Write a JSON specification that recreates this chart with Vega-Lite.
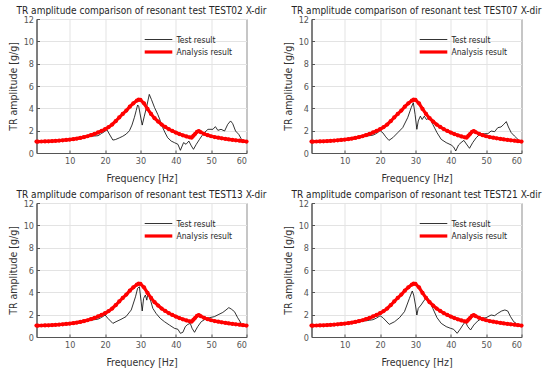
{
  "$schema": "https://vega.github.io/schema/vega-lite/v6.json",
  "background": "white",
  "padding": {"left": 7.5, "top": 5, "right": 5, "bottom": 2},
  "bounds": "flush",
  "columns": 2,
  "spacing": {"row": 50, "column": 65},
  "config": {
    "font": "Liberation Sans Narrow, Arial Narrow, DejaVu Sans Condensed, Liberation Sans",
    "view": {"stroke": "#555555", "strokeWidth": 1},
    "title": {"fontSize": 10, "fontWeight": "normal", "color": "#262626", "offset": -1, "font": "Liberation Sans Narrow, Arial Narrow, DejaVu Sans Condensed, Liberation Sans"},
    "axis": {"grid": true, "gridColor": "#e3e3e3", "domainColor": "#555555", "tickColor": "#555555", "labelColor": "#555555", "titleColor": "#333333", "labelFontSize": 9, "titleFontSize": 10.5, "titleFontWeight": "normal", "tickSize": -3, "labelPadding": 6},
    "axisX": {"titlePadding": 8},
    "axisY": {"titlePadding": 5},
    "legend": {"labelFontSize": 8.5, "labelColor": "#262626", "symbolSize": 144, "symbolType": "M-2.3,0H2.3", "rowPadding": 0, "labelOffset": 10, "padding": 2}
  },
  "resolve": {"legend": {"color": "independent", "strokeWidth": "independent"}},
  "datasets": {
    "ana": [
      {"s":"Analysis result","f":0.6,"v":1.02},{"s":"Analysis result","f":1,"v":1.02},{"s":"Analysis result","f":2,"v":1.03},{"s":"Analysis result","f":3,"v":1.04},{"s":"Analysis result","f":4,"v":1.05},{"s":"Analysis result","f":5,"v":1.07},{"s":"Analysis result","f":6,"v":1.09},{"s":"Analysis result","f":7,"v":1.11},{"s":"Analysis result","f":8,"v":1.14},{"s":"Analysis result","f":9,"v":1.17},{"s":"Analysis result","f":10,"v":1.2},{"s":"Analysis result","f":11,"v":1.24},{"s":"Analysis result","f":12,"v":1.29},{"s":"Analysis result","f":13,"v":1.35},{"s":"Analysis result","f":14,"v":1.42},{"s":"Analysis result","f":15,"v":1.5},{"s":"Analysis result","f":16,"v":1.6},{"s":"Analysis result","f":17,"v":1.71},{"s":"Analysis result","f":18,"v":1.84},{"s":"Analysis result","f":19,"v":1.98},{"s":"Analysis result","f":20,"v":2.13},{"s":"Analysis result","f":21,"v":2.32},{"s":"Analysis result","f":22,"v":2.55},{"s":"Analysis result","f":23,"v":2.85},{"s":"Analysis result","f":24,"v":3.18},{"s":"Analysis result","f":25,"v":3.5},{"s":"Analysis result","f":26,"v":3.8},{"s":"Analysis result","f":27,"v":4.15},{"s":"Analysis result","f":28,"v":4.45},{"s":"Analysis result","f":29,"v":4.7},{"s":"Analysis result","f":29.5,"v":4.78},{"s":"Analysis result","f":30,"v":4.75},{"s":"Analysis result","f":31,"v":4.45},{"s":"Analysis result","f":32,"v":3.95},{"s":"Analysis result","f":33,"v":3.5},{"s":"Analysis result","f":34,"v":3.12},{"s":"Analysis result","f":35,"v":2.82},{"s":"Analysis result","f":36,"v":2.55},{"s":"Analysis result","f":37,"v":2.33},{"s":"Analysis result","f":38,"v":2.14},{"s":"Analysis result","f":39,"v":1.98},{"s":"Analysis result","f":40,"v":1.83},{"s":"Analysis result","f":41,"v":1.7},{"s":"Analysis result","f":42,"v":1.58},{"s":"Analysis result","f":43,"v":1.48},{"s":"Analysis result","f":44,"v":1.4},{"s":"Analysis result","f":44.5,"v":1.38},{"s":"Analysis result","f":45,"v":1.55},{"s":"Analysis result","f":45.5,"v":1.72},{"s":"Analysis result","f":46,"v":1.9},{"s":"Analysis result","f":46.5,"v":1.97},{"s":"Analysis result","f":47,"v":1.87},{"s":"Analysis result","f":48,"v":1.72},{"s":"Analysis result","f":49,"v":1.6},{"s":"Analysis result","f":50,"v":1.5},{"s":"Analysis result","f":51,"v":1.43},{"s":"Analysis result","f":52,"v":1.37},{"s":"Analysis result","f":53,"v":1.32},{"s":"Analysis result","f":54,"v":1.27},{"s":"Analysis result","f":55,"v":1.22},{"s":"Analysis result","f":56,"v":1.18},{"s":"Analysis result","f":57,"v":1.14},{"s":"Analysis result","f":58,"v":1.1},{"s":"Analysis result","f":59,"v":1.06},{"s":"Analysis result","f":60,"v":1.02}
    ],
    "test": [
      {"p":"TEST02","s":"Test result","f":0.6,"v":1.0},{"p":"TEST02","s":"Test result","f":2,"v":1.02},{"p":"TEST02","s":"Test result","f":4,"v":1.04},{"p":"TEST02","s":"Test result","f":6,"v":1.08},{"p":"TEST02","s":"Test result","f":8,"v":1.12},{"p":"TEST02","s":"Test result","f":10,"v":1.18},{"p":"TEST02","s":"Test result","f":12,"v":1.27},{"p":"TEST02","s":"Test result","f":14,"v":1.38},{"p":"TEST02","s":"Test result","f":15,"v":1.45},{"p":"TEST02","s":"Test result","f":16,"v":1.5},{"p":"TEST02","s":"Test result","f":17,"v":1.52},{"p":"TEST02","s":"Test result","f":18,"v":1.55},
      {"p":"TEST02","s":"Test result","f":19,"v":1.75},{"p":"TEST02","s":"Test result","f":20,"v":1.95},{"p":"TEST02","s":"Test result","f":20.5,"v":2.1},{"p":"TEST02","s":"Test result","f":21.2,"v":1.7},{"p":"TEST02","s":"Test result","f":22.2,"v":1.16},{"p":"TEST02","s":"Test result","f":22.9,"v":1.2},{"p":"TEST02","s":"Test result","f":24,"v":1.35},{"p":"TEST02","s":"Test result","f":25,"v":1.5},{"p":"TEST02","s":"Test result","f":26,"v":1.7},{"p":"TEST02","s":"Test result","f":26.9,"v":2.0},{"p":"TEST02","s":"Test result","f":27.6,"v":2.5},{"p":"TEST02","s":"Test result","f":28.3,"v":3.2},{"p":"TEST02","s":"Test result","f":28.8,"v":3.8},{"p":"TEST02","s":"Test result","f":29.2,"v":4.3},{"p":"TEST02","s":"Test result","f":29.5,"v":4.2},{"p":"TEST02","s":"Test result","f":29.9,"v":3.5},{"p":"TEST02","s":"Test result","f":30.5,"v":2.5},{"p":"TEST02","s":"Test result","f":31.1,"v":3.3},{"p":"TEST02","s":"Test result","f":31.8,"v":4.2},{"p":"TEST02","s":"Test result","f":32.5,"v":5.25},{"p":"TEST02","s":"Test result","f":33.1,"v":4.8},{"p":"TEST02","s":"Test result","f":34,"v":4.06},{"p":"TEST02","s":"Test result","f":34.9,"v":3.46},{"p":"TEST02","s":"Test result","f":35.6,"v":2.9},{"p":"TEST02","s":"Test result","f":36.3,"v":2.27},{"p":"TEST02","s":"Test result","f":37,"v":1.8},{"p":"TEST02","s":"Test result","f":37.7,"v":1.37},{"p":"TEST02","s":"Test result","f":38.7,"v":1.07},{"p":"TEST02","s":"Test result","f":39.6,"v":0.93},{"p":"TEST02","s":"Test result","f":40.6,"v":0.78},{"p":"TEST02","s":"Test result","f":41.3,"v":0.24},{"p":"TEST02","s":"Test result","f":42.2,"v":0.93},{"p":"TEST02","s":"Test result","f":42.9,"v":0.78},{"p":"TEST02","s":"Test result","f":43.7,"v":1.07},{"p":"TEST02","s":"Test result","f":44.4,"v":0.63},{"p":"TEST02","s":"Test result","f":45,"v":0.33},{"p":"TEST02","s":"Test result","f":45.8,"v":0.78},{"p":"TEST02","s":"Test result","f":46.7,"v":1.22},{"p":"TEST02","s":"Test result","f":47.4,"v":1.55},{"p":"TEST02","s":"Test result","f":48.1,"v":1.82},{"p":"TEST02","s":"Test result","f":49.1,"v":2.12},{"p":"TEST02","s":"Test result","f":50.5,"v":2.12},{"p":"TEST02","s":"Test result","f":51.2,"v":2.36},{"p":"TEST02","s":"Test result","f":51.9,"v":2.03},{"p":"TEST02","s":"Test result","f":52.8,"v":2.12},{"p":"TEST02","s":"Test result","f":53.8,"v":1.97},{"p":"TEST02","s":"Test result","f":54.7,"v":2.57},{"p":"TEST02","s":"Test result","f":55.5,"v":2.87},{"p":"TEST02","s":"Test result","f":56.1,"v":2.63},{"p":"TEST02","s":"Test result","f":56.9,"v":1.97},{"p":"TEST02","s":"Test result","f":57.8,"v":1.67},{"p":"TEST02","s":"Test result","f":58.5,"v":1.28},{"p":"TEST02","s":"Test result","f":59,"v":1.05},

      {"p":"TEST07","s":"Test result","f":0.6,"v":1.0},{"p":"TEST07","s":"Test result","f":2,"v":1.02},{"p":"TEST07","s":"Test result","f":4,"v":1.04},{"p":"TEST07","s":"Test result","f":6,"v":1.08},{"p":"TEST07","s":"Test result","f":8,"v":1.12},{"p":"TEST07","s":"Test result","f":10,"v":1.18},{"p":"TEST07","s":"Test result","f":12,"v":1.27},{"p":"TEST07","s":"Test result","f":14,"v":1.38},{"p":"TEST07","s":"Test result","f":15,"v":1.45},{"p":"TEST07","s":"Test result","f":16,"v":1.5},{"p":"TEST07","s":"Test result","f":17,"v":1.55},{"p":"TEST07","s":"Test result","f":18,"v":1.6},
      {"p":"TEST07","s":"Test result","f":19,"v":1.75},{"p":"TEST07","s":"Test result","f":20,"v":2.0},{"p":"TEST07","s":"Test result","f":20.8,"v":1.8},{"p":"TEST07","s":"Test result","f":21.6,"v":1.45},{"p":"TEST07","s":"Test result","f":22.5,"v":1.13},{"p":"TEST07","s":"Test result","f":23.6,"v":1.37},{"p":"TEST07","s":"Test result","f":25,"v":1.82},{"p":"TEST07","s":"Test result","f":26.4,"v":2.27},{"p":"TEST07","s":"Test result","f":27.8,"v":3.16},{"p":"TEST07","s":"Test result","f":28.8,"v":4.06},{"p":"TEST07","s":"Test result","f":29.4,"v":4.5},{"p":"TEST07","s":"Test result","f":29.9,"v":3.46},{"p":"TEST07","s":"Test result","f":30.4,"v":2.12},{"p":"TEST07","s":"Test result","f":30.8,"v":2.87},{"p":"TEST07","s":"Test result","f":31.4,"v":3.3},{"p":"TEST07","s":"Test result","f":31.9,"v":3.0},{"p":"TEST07","s":"Test result","f":32.5,"v":3.3},{"p":"TEST07","s":"Test result","f":33.1,"v":3.0},{"p":"TEST07","s":"Test result","f":34,"v":3.16},{"p":"TEST07","s":"Test result","f":34.9,"v":2.57},{"p":"TEST07","s":"Test result","f":36.1,"v":1.82},{"p":"TEST07","s":"Test result","f":37.3,"v":1.22},{"p":"TEST07","s":"Test result","f":38.7,"v":0.93},{"p":"TEST07","s":"Test result","f":40.1,"v":0.72},{"p":"TEST07","s":"Test result","f":40.8,"v":0.54},{"p":"TEST07","s":"Test result","f":41.4,"v":0.18},{"p":"TEST07","s":"Test result","f":42.2,"v":0.72},{"p":"TEST07","s":"Test result","f":42.9,"v":0.93},{"p":"TEST07","s":"Test result","f":43.7,"v":1.13},{"p":"TEST07","s":"Test result","f":44.6,"v":0.72},{"p":"TEST07","s":"Test result","f":45.3,"v":0.42},{"p":"TEST07","s":"Test result","f":46.2,"v":0.93},{"p":"TEST07","s":"Test result","f":47.2,"v":1.37},{"p":"TEST07","s":"Test result","f":48.4,"v":1.73},{"p":"TEST07","s":"Test result","f":49.5,"v":1.73},{"p":"TEST07","s":"Test result","f":50.5,"v":1.73},{"p":"TEST07","s":"Test result","f":51.4,"v":1.97},{"p":"TEST07","s":"Test result","f":52.4,"v":1.91},{"p":"TEST07","s":"Test result","f":53.3,"v":2.27},{"p":"TEST07","s":"Test result","f":54.2,"v":2.33},{"p":"TEST07","s":"Test result","f":55,"v":2.57},{"p":"TEST07","s":"Test result","f":55.7,"v":2.81},{"p":"TEST07","s":"Test result","f":56.3,"v":2.33},{"p":"TEST07","s":"Test result","f":57.1,"v":1.82},{"p":"TEST07","s":"Test result","f":58,"v":1.52},{"p":"TEST07","s":"Test result","f":59,"v":1.22},

      {"p":"TEST13","s":"Test result","f":0.6,"v":1.0},{"p":"TEST13","s":"Test result","f":2,"v":1.02},{"p":"TEST13","s":"Test result","f":4,"v":1.04},{"p":"TEST13","s":"Test result","f":6,"v":1.08},{"p":"TEST13","s":"Test result","f":8,"v":1.12},{"p":"TEST13","s":"Test result","f":10,"v":1.18},{"p":"TEST13","s":"Test result","f":12,"v":1.27},{"p":"TEST13","s":"Test result","f":14,"v":1.38},{"p":"TEST13","s":"Test result","f":15,"v":1.45},{"p":"TEST13","s":"Test result","f":16,"v":1.5},{"p":"TEST13","s":"Test result","f":17,"v":1.55},{"p":"TEST13","s":"Test result","f":18,"v":1.6},
      {"p":"TEST13","s":"Test result","f":19,"v":1.75},{"p":"TEST13","s":"Test result","f":20,"v":1.97},{"p":"TEST13","s":"Test result","f":20.8,"v":1.67},{"p":"TEST13","s":"Test result","f":22.2,"v":1.22},{"p":"TEST13","s":"Test result","f":23.1,"v":1.37},{"p":"TEST13","s":"Test result","f":24.5,"v":1.58},{"p":"TEST13","s":"Test result","f":25.9,"v":1.82},{"p":"TEST13","s":"Test result","f":27.4,"v":2.42},{"p":"TEST13","s":"Test result","f":28.6,"v":3.6},{"p":"TEST13","s":"Test result","f":29.2,"v":4.36},{"p":"TEST13","s":"Test result","f":29.7,"v":4.5},{"p":"TEST13","s":"Test result","f":30.2,"v":3.16},{"p":"TEST13","s":"Test result","f":30.5,"v":2.33},{"p":"TEST13","s":"Test result","f":30.9,"v":3.46},{"p":"TEST13","s":"Test result","f":31.4,"v":3.76},{"p":"TEST13","s":"Test result","f":31.8,"v":3.3},{"p":"TEST13","s":"Test result","f":32.2,"v":4.06},{"p":"TEST13","s":"Test result","f":32.7,"v":3.46},{"p":"TEST13","s":"Test result","f":33.5,"v":2.57},{"p":"TEST13","s":"Test result","f":34.4,"v":2.12},{"p":"TEST13","s":"Test result","f":35.6,"v":1.67},{"p":"TEST13","s":"Test result","f":36.8,"v":1.37},{"p":"TEST13","s":"Test result","f":38.2,"v":1.07},{"p":"TEST13","s":"Test result","f":39.6,"v":0.78},{"p":"TEST13","s":"Test result","f":40.6,"v":0.69},{"p":"TEST13","s":"Test result","f":41.3,"v":0.33},{"p":"TEST13","s":"Test result","f":42,"v":0.42},{"p":"TEST13","s":"Test result","f":42.7,"v":0.93},{"p":"TEST13","s":"Test result","f":43.4,"v":1.13},{"p":"TEST13","s":"Test result","f":44.1,"v":1.22},{"p":"TEST13","s":"Test result","f":44.6,"v":0.78},{"p":"TEST13","s":"Test result","f":45.3,"v":0.42},{"p":"TEST13","s":"Test result","f":46.2,"v":0.93},{"p":"TEST13","s":"Test result","f":47.2,"v":1.37},{"p":"TEST13","s":"Test result","f":48.4,"v":1.61},{"p":"TEST13","s":"Test result","f":49.5,"v":1.73},{"p":"TEST13","s":"Test result","f":50.9,"v":1.82},{"p":"TEST13","s":"Test result","f":52.2,"v":2.03},{"p":"TEST13","s":"Test result","f":53.3,"v":2.2},{"p":"TEST13","s":"Test result","f":54.2,"v":2.42},{"p":"TEST13","s":"Test result","f":55,"v":2.63},{"p":"TEST13","s":"Test result","f":55.7,"v":2.5},{"p":"TEST13","s":"Test result","f":56.6,"v":2.27},{"p":"TEST13","s":"Test result","f":57.5,"v":1.73},{"p":"TEST13","s":"Test result","f":58.5,"v":1.22},

      {"p":"TEST21","s":"Test result","f":0.6,"v":1.0},{"p":"TEST21","s":"Test result","f":2,"v":1.02},{"p":"TEST21","s":"Test result","f":4,"v":1.04},{"p":"TEST21","s":"Test result","f":6,"v":1.08},{"p":"TEST21","s":"Test result","f":8,"v":1.12},{"p":"TEST21","s":"Test result","f":10,"v":1.18},{"p":"TEST21","s":"Test result","f":12,"v":1.27},{"p":"TEST21","s":"Test result","f":14,"v":1.38},{"p":"TEST21","s":"Test result","f":15,"v":1.42},{"p":"TEST21","s":"Test result","f":16,"v":1.45},{"p":"TEST21","s":"Test result","f":17,"v":1.5},{"p":"TEST21","s":"Test result","f":18,"v":1.55},
      {"p":"TEST21","s":"Test result","f":19,"v":1.7},{"p":"TEST21","s":"Test result","f":20,"v":1.9},{"p":"TEST21","s":"Test result","f":20.8,"v":1.73},{"p":"TEST21","s":"Test result","f":22.6,"v":1.13},{"p":"TEST21","s":"Test result","f":24.1,"v":1.37},{"p":"TEST21","s":"Test result","f":25.5,"v":1.73},{"p":"TEST21","s":"Test result","f":26.9,"v":2.27},{"p":"TEST21","s":"Test result","f":28.3,"v":3.46},{"p":"TEST21","s":"Test result","f":29.1,"v":4.12},{"p":"TEST21","s":"Test result","f":29.5,"v":3.76},{"p":"TEST21","s":"Test result","f":30,"v":2.87},{"p":"TEST21","s":"Test result","f":30.4,"v":1.97},{"p":"TEST21","s":"Test result","f":30.8,"v":2.57},{"p":"TEST21","s":"Test result","f":31.6,"v":2.87},{"p":"TEST21","s":"Test result","f":32.5,"v":3.3},{"p":"TEST21","s":"Test result","f":33.3,"v":3.52},{"p":"TEST21","s":"Test result","f":34,"v":3.3},{"p":"TEST21","s":"Test result","f":34.9,"v":2.57},{"p":"TEST21","s":"Test result","f":36.1,"v":1.73},{"p":"TEST21","s":"Test result","f":37.3,"v":1.22},{"p":"TEST21","s":"Test result","f":38.7,"v":0.93},{"p":"TEST21","s":"Test result","f":39.9,"v":0.78},{"p":"TEST21","s":"Test result","f":40.8,"v":0.69},{"p":"TEST21","s":"Test result","f":41.8,"v":0.33},{"p":"TEST21","s":"Test result","f":42.7,"v":0.72},{"p":"TEST21","s":"Test result","f":43.4,"v":1.07},{"p":"TEST21","s":"Test result","f":44.1,"v":1.37},{"p":"TEST21","s":"Test result","f":44.8,"v":0.93},{"p":"TEST21","s":"Test result","f":45.6,"v":0.63},{"p":"TEST21","s":"Test result","f":46.5,"v":1.07},{"p":"TEST21","s":"Test result","f":47.6,"v":1.43},{"p":"TEST21","s":"Test result","f":48.8,"v":1.67},{"p":"TEST21","s":"Test result","f":50,"v":1.73},{"p":"TEST21","s":"Test result","f":51.4,"v":1.97},{"p":"TEST21","s":"Test result","f":52.4,"v":1.91},{"p":"TEST21","s":"Test result","f":53.3,"v":2.12},{"p":"TEST21","s":"Test result","f":54.4,"v":2.33},{"p":"TEST21","s":"Test result","f":55.3,"v":2.42},{"p":"TEST21","s":"Test result","f":56.1,"v":2.33},{"p":"TEST21","s":"Test result","f":56.9,"v":1.82},{"p":"TEST21","s":"Test result","f":57.8,"v":1.37},{"p":"TEST21","s":"Test result","f":58.5,"v":1.22}
    ]
  },
  "concat": [
    {"title": "TR amplitude comparison of resonant test TEST02 X-dir", "width": 210, "height": 134,
     "encoding": {
       "x": {"field": "f", "type": "quantitative", "scale": {"domain": [0.6, 60], "nice": false, "zero": false}, "axis": {"values": [10, 20, 30, 40, 50, 60], "title": "Frequency [Hz]"}},
       "y": {"field": "v", "type": "quantitative", "scale": {"domain": [0, 12], "nice": false}, "axis": {"values": [0, 2, 4, 6, 8, 10, 12], "title": "TR amplitude [g/g]"}}
     },
     "layer": [
       {"data": {"name": "test"}, "transform": [{"filter": "datum.p == 'TEST02'"}], "mark": {"type": "line"},
        "encoding": {"color": {"field": "s", "type": "nominal", "scale": {"domain": ["Test result", "Analysis result"], "range": ["#000000", "#ff0000"]}, "legend": {"orient": "top-right", "offset": 12, "title": null}},
                     "strokeWidth": {"field": "s", "type": "nominal", "scale": {"domain": ["Test result", "Analysis result"], "range": [0.8, 3.2]}, "legend": {"orient": "top-right", "offset": 12, "title": null}}}},
       {"data": {"name": "ana"}, "mark": {"type": "line"},
        "encoding": {"color": {"field": "s", "type": "nominal", "scale": {"domain": ["Test result", "Analysis result"], "range": ["#000000", "#ff0000"]}, "legend": {"orient": "top-right", "offset": 12, "title": null}},
                     "strokeWidth": {"field": "s", "type": "nominal", "scale": {"domain": ["Test result", "Analysis result"], "range": [0.8, 3.2]}, "legend": {"orient": "top-right", "offset": 12, "title": null}}}},
       {"data": {"name": "ana"}, "mark": {"type": "point", "filled": true, "size": 18, "opacity": 1, "color": "#ff0000", "strokeWidth": 0}}
     ]},
    {"title": "TR amplitude comparison of resonant test TEST07 X-dir", "width": 210, "height": 134,
     "encoding": {
       "x": {"field": "f", "type": "quantitative", "scale": {"domain": [0.6, 60], "nice": false, "zero": false}, "axis": {"values": [10, 20, 30, 40, 50, 60], "title": "Frequency [Hz]"}},
       "y": {"field": "v", "type": "quantitative", "scale": {"domain": [0, 12], "nice": false}, "axis": {"values": [0, 2, 4, 6, 8, 10, 12], "title": "TR amplitude [g/g]"}}
     },
     "layer": [
       {"data": {"name": "test"}, "transform": [{"filter": "datum.p == 'TEST07'"}], "mark": {"type": "line"},
        "encoding": {"color": {"field": "s", "type": "nominal", "scale": {"domain": ["Test result", "Analysis result"], "range": ["#000000", "#ff0000"]}, "legend": {"orient": "top-right", "offset": 12, "title": null}},
                     "strokeWidth": {"field": "s", "type": "nominal", "scale": {"domain": ["Test result", "Analysis result"], "range": [0.8, 3.2]}, "legend": {"orient": "top-right", "offset": 12, "title": null}}}},
       {"data": {"name": "ana"}, "mark": {"type": "line"},
        "encoding": {"color": {"field": "s", "type": "nominal", "scale": {"domain": ["Test result", "Analysis result"], "range": ["#000000", "#ff0000"]}, "legend": {"orient": "top-right", "offset": 12, "title": null}},
                     "strokeWidth": {"field": "s", "type": "nominal", "scale": {"domain": ["Test result", "Analysis result"], "range": [0.8, 3.2]}, "legend": {"orient": "top-right", "offset": 12, "title": null}}}},
       {"data": {"name": "ana"}, "mark": {"type": "point", "filled": true, "size": 18, "opacity": 1, "color": "#ff0000", "strokeWidth": 0}}
     ]},
    {"title": "TR amplitude comparison of resonant test TEST13 X-dir", "width": 210, "height": 134,
     "encoding": {
       "x": {"field": "f", "type": "quantitative", "scale": {"domain": [0.6, 60], "nice": false, "zero": false}, "axis": {"values": [10, 20, 30, 40, 50, 60], "title": "Frequency [Hz]"}},
       "y": {"field": "v", "type": "quantitative", "scale": {"domain": [0, 12], "nice": false}, "axis": {"values": [0, 2, 4, 6, 8, 10, 12], "title": "TR amplitude [g/g]"}}
     },
     "layer": [
       {"data": {"name": "test"}, "transform": [{"filter": "datum.p == 'TEST13'"}], "mark": {"type": "line"},
        "encoding": {"color": {"field": "s", "type": "nominal", "scale": {"domain": ["Test result", "Analysis result"], "range": ["#000000", "#ff0000"]}, "legend": {"orient": "top-right", "offset": 12, "title": null}},
                     "strokeWidth": {"field": "s", "type": "nominal", "scale": {"domain": ["Test result", "Analysis result"], "range": [0.8, 3.2]}, "legend": {"orient": "top-right", "offset": 12, "title": null}}}},
       {"data": {"name": "ana"}, "mark": {"type": "line"},
        "encoding": {"color": {"field": "s", "type": "nominal", "scale": {"domain": ["Test result", "Analysis result"], "range": ["#000000", "#ff0000"]}, "legend": {"orient": "top-right", "offset": 12, "title": null}},
                     "strokeWidth": {"field": "s", "type": "nominal", "scale": {"domain": ["Test result", "Analysis result"], "range": [0.8, 3.2]}, "legend": {"orient": "top-right", "offset": 12, "title": null}}}},
       {"data": {"name": "ana"}, "mark": {"type": "point", "filled": true, "size": 18, "opacity": 1, "color": "#ff0000", "strokeWidth": 0}}
     ]},
    {"title": "TR amplitude comparison of resonant test TEST21 X-dir", "width": 210, "height": 134,
     "encoding": {
       "x": {"field": "f", "type": "quantitative", "scale": {"domain": [0.6, 60], "nice": false, "zero": false}, "axis": {"values": [10, 20, 30, 40, 50, 60], "title": "Frequency [Hz]"}},
       "y": {"field": "v", "type": "quantitative", "scale": {"domain": [0, 12], "nice": false}, "axis": {"values": [0, 2, 4, 6, 8, 10, 12], "title": "TR amplitude [g/g]"}}
     },
     "layer": [
       {"data": {"name": "test"}, "transform": [{"filter": "datum.p == 'TEST21'"}], "mark": {"type": "line"},
        "encoding": {"color": {"field": "s", "type": "nominal", "scale": {"domain": ["Test result", "Analysis result"], "range": ["#000000", "#ff0000"]}, "legend": {"orient": "top-right", "offset": 12, "title": null}},
                     "strokeWidth": {"field": "s", "type": "nominal", "scale": {"domain": ["Test result", "Analysis result"], "range": [0.8, 3.2]}, "legend": {"orient": "top-right", "offset": 12, "title": null}}}},
       {"data": {"name": "ana"}, "mark": {"type": "line"},
        "encoding": {"color": {"field": "s", "type": "nominal", "scale": {"domain": ["Test result", "Analysis result"], "range": ["#000000", "#ff0000"]}, "legend": {"orient": "top-right", "offset": 12, "title": null}},
                     "strokeWidth": {"field": "s", "type": "nominal", "scale": {"domain": ["Test result", "Analysis result"], "range": [0.8, 3.2]}, "legend": {"orient": "top-right", "offset": 12, "title": null}}}},
       {"data": {"name": "ana"}, "mark": {"type": "point", "filled": true, "size": 18, "opacity": 1, "color": "#ff0000", "strokeWidth": 0}}
     ]}
  ]
}
